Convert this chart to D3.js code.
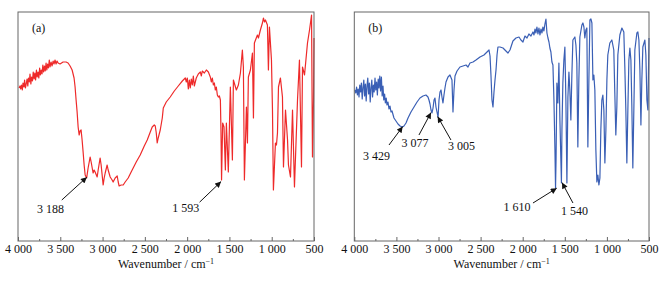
<!DOCTYPE html>
<html>
<head>
<meta charset="utf-8">
<script src="https://cdn.jsdelivr.net/npm/d3@7"></script>
<style>
  body { margin: 0; background: #fff; }
  svg { display: block; }
  svg text { font-family: "Liberation Serif", "Times New Roman", Tinos, "DejaVu Serif", serif; font-size: 12px; fill: #111; }
</style>
</head>
<body>
<svg id="chart" width="672" height="281"></svg>
<script>
// wavenumber (cm-1) and transmittance (a.u.)
let wnA = [3988,3976,3968,3959,3949,3941,3929,3922,3912,3903,3893,3884,3876,3866,3858,3848,3839,3829,3820,3810,3801,3792,3782,3773,3763,3754,3744,3735,3725,3716,3706,3697,3687,3678,3668,3659,3649,3640,3630,3621,3609,3597,3585,3574,3562,3550,3538,3526,3503,3467,3431,3408,3384,3360,3337,3325,3313,3301,3289,3277,3266,3254,3242,3230,3218,3206,3188,3171,3147,3135,3112,3100,3088,3064,3052,3029,3017,2993,2981,2969,2946,2934,2910,2887,2875,2851,2827,2815,2804,2780,2756,2733,2697,2662,2638,2602,2555,2507,2472,2436,2413,2389,2377,2365,2354,2342,2318,2294,2282,2247,2200,2152,2105,2057,2022,2010,1998,1986,1974,1963,1951,1939,1927,1915,1892,1868,1844,1832,1821,1797,1773,1749,1726,1714,1702,1690,1678,1667,1655,1643,1631,1619,1607,1600,1593,1580,1564,1548,1536,1513,1489,1465,1453,1418,1394,1370,1347,1335,1323,1299,1287,1276,1252,1228,1216,1205,1169,1157,1134,1110,1098,1086,1074,1051,1039,1027,1003,991,980,956,944,932,920,897,873,861,837,813,802,778,754,731,695,672,648,636,612,577,553,529,518,506,500]
let tA = [76.5,77.5,76,78,75.5,79,77,80.5,76.5,78.5,81,77.5,81.5,79.5,83.5,78.5,82,80,84.5,81,84,80.5,85.5,82,84.5,81.5,86.5,83,85.5,83.5,88,84.5,87.5,85,89,85.5,88.5,86.5,90.5,87,89.5,87.5,90,88.5,90.5,88.5,90,89,88.5,89.5,89.5,89,87.5,85.5,81.5,77,70.5,64.5,57,53,55,55.5,50.5,44.5,38,33,31.5,36.5,42,39.5,34,35.5,34.5,32,35.5,41.5,38,28,31.5,34,38,35.5,32,30.5,29.5,31.5,32.5,29.5,27.5,28,28,29.5,31.5,34.5,36.5,39.5,43,47.5,50.5,54.5,57,58,57.5,54,49,51.5,55.5,61.5,66.5,69.5,72,75,77.5,80,81.5,79.5,81.5,76,80.5,76.5,81,78,82.5,77.5,81.5,83.5,84.5,82.5,85,84,85.5,84.5,82,79.5,81.5,78,79,75.5,77,73,72,72.5,70.5,55,30.5,59,57,35.5,59,34.5,77,40.5,80.5,75.5,78,84,95.5,87,30.5,67,49,82,85.5,94,61.5,99,103,101.5,105.5,109,111.5,109.5,110.5,108,85.5,107,90.5,65.5,25.5,49,48,54,77,81.5,72,37,65.5,50.5,38,32,65.5,27,70.5,90.5,37,87,83,99,105.5,113,42,70.5,101.5]

let wnB = [3992,3982,3973,3963,3954,3944,3935,3925,3916,3906,3897,3887,3878,3868,3859,3849,3840,3830,3821,3811,3802,3792,3783,3773,3764,3754,3745,3735,3726,3716,3707,3697,3688,3678,3669,3659,3650,3640,3631,3621,3612,3600,3588,3576,3564,3552,3529,3505,3481,3457,3429,3410,3386,3362,3327,3291,3255,3220,3184,3149,3125,3113,3101,3089,3077,3065,3053,3042,3030,3018,3005,2994,2982,2970,2959,2947,2935,2923,2911,2887,2864,2840,2828,2816,2804,2780,2745,2709,2673,2650,2626,2590,2555,2507,2460,2424,2400,2388,2377,2365,2353,2341,2329,2317,2305,2294,2270,2234,2199,2175,2151,2116,2080,2044,2021,1997,1973,1949,1926,1902,1878,1866,1854,1843,1831,1819,1807,1795,1783,1771,1760,1748,1736,1724,1712,1700,1688,1677,1665,1653,1641,1629,1617,1610,1604,1594,1582,1570,1558,1540,1534,1523,1511,1499,1487,1475,1463,1451,1440,1428,1416,1404,1380,1368,1357,1345,1333,1321,1297,1285,1273,1262,1250,1238,1226,1214,1202,1190,1178,1166,1155,1143,1131,1119,1107,1095,1083,1072,1060,1048,1036,1024,1012,1000,989,965,941,918,906,894,882,870,846,822,799,787,775,763,751,739,727,715,704,692,680,668,644,632,620,608,596,585,573,549,537,525,513,500]
let tB = [75.5,74,77,73,76,72,78,74.5,79,71,76.5,80.5,72.5,78.5,70,77.5,81.5,73.5,79,69.5,76.5,80.5,72,78,74.5,81.5,75.5,79.5,73,81,76.5,82.5,75,82,72.5,77.5,70.5,73.5,69,71.5,68,69.5,66,67.5,64.5,65,61.5,60,58.5,57.5,57,57.5,59,61.5,64.5,67,69.5,71.5,72.5,73,72,70.5,68.5,65.5,64,66.5,70.5,71.5,67,64.5,62,70.5,74.5,75.5,72,69,73,76.5,79.5,82,83,80.5,64.5,75.5,82.5,85,87,87.5,88,87,89,89.5,90.5,92,93,94.5,95.5,92.5,83,70.5,67,74.5,80.5,85.5,93,97,97,96.5,95,94,95.5,100,101.5,102,100.5,99.5,102.5,101.5,103.5,102.5,104.5,103,106,104,107,103.5,106.5,103,106,104,107,105,108.5,111,104,101.5,99.5,96.5,94.5,89.5,88,70.5,45.5,26.5,40.5,79,69,89,60.5,29,55.5,79,90.5,97,70.5,29,72,84.5,75.5,60.5,83,100.5,102,98,89,47,80.5,102,108,109,107,101.5,105.5,106.5,47,80.5,110.5,111,109,80.5,83,75.5,45.5,29.5,33,28,31.5,55.5,70.5,73,65.5,39,55.5,80.5,93,99,100.5,95.5,74,53,67,93,103,106.5,104.5,87,65.5,39,65.5,90.5,96.5,90.5,68,36.5,65.5,95.5,104,104.5,100.5,85.5,58,80.5,97,100.5,93,70.5,65.5,101.5]

let majorTicks = [4000, 3500, 3000, 2500, 2000, 1500, 1000, 500]
let minorTicks = [3750, 3250, 2750, 2250, 1750, 1250, 750]

// peak labels: text, label pos, arrow tail, arrow tip (wavenumber, transmittance)
let notesA = [
  {text: "3 188", lx: 3615, ly: 14, fx: 3482, fy: 20.5, tx: 3186, ty: 31.9},
  {text: "1 593", lx: 2016, ly: 14.6, fx: 1853, fy: 19.4, tx: 1599, ty: 29.7}
]
let notesB = [
  {text: "3 429", lx: 3736, ly: 40.5, fx: 3588, fy: 48, tx: 3425, ty: 57.2},
  {text: "3 077", lx: 3279, ly: 47.2, fx: 3232, fy: 53, tx: 3089, ty: 64.2},
  {text: "3 005", lx: 2727, ly: 45.5, fx: 2852, fy: 50.5, tx: 3010, ty: 62.2},
  {text: "1 610", lx: 2068, ly: 15.2, fx: 1878, fy: 19, tx: 1596, ty: 26.4},
  {text: "1 540", lx: 1385, ly: 13, fx: 1403, fy: 19, tx: 1533, ty: 29.2}
]

let serif = "'Liberation Serif', 'Times New Roman', Tinos, 'DejaVu Serif', serif"
let svg = d3.select("#chart")

svg.append("defs").append("marker")
   .attr("id", "head")
   .attr("viewBox", "0 0 10 10")
   .attr("refX", 10).attr("refY", 5)
   .attr("markerWidth", 7).attr("markerHeight", 6)
   .attr("markerUnits", "userSpaceOnUse")
   .attr("orient", "auto")
   .append("path")
   .attr("d", "M0,0 L10,5 L0,10 Z")
   .attr("fill", "#111")

let plotTop = 12, plotBottom = 241

function drawPanel(left, right, wn, t, color, tag, notes){
    let x = d3.scaleLinear().domain([4000, 500]).range([left, right])
    let y = d3.scaleLinear().domain([0, 114.5]).range([plotBottom, plotTop])
    let g = svg.append("g").attr("font-family", serif).attr("font-size", 12)

    let data = wn.map(function(d, i){ return {w: d, v: t[i]} })

    g.append("path")
     .datum(data)
     .attr("fill", "none")
     .attr("stroke", color)
     .attr("stroke-width", 1.2)
     .attr("stroke-linejoin", "round")
     .attr("d", d3.line().x(d => x(d.w)).y(d => y(d.v)))

    g.append("rect")
     .attr("x", left).attr("y", plotTop)
     .attr("width", right - left).attr("height", plotBottom - plotTop)
     .attr("fill", "none")
     .attr("stroke", "#666")
     .attr("stroke-width", 1)

    let major = g.append("g")
                 .attr("transform", `translate(0,${plotBottom})`)
                 .call(d3.axisBottom(x).tickValues(majorTicks).tickSize(-4).tickPadding(3)
                     .tickFormat(d => d3.format(",")(d).replace(",", " ")))
    major.attr("font-family", serif).attr("font-size", 12)
    major.select(".domain").remove()
    major.selectAll("line").attr("stroke", "#666")
    major.selectAll("text").attr("fill", "#111")

    let minor = g.append("g")
                 .attr("transform", `translate(0,${plotBottom})`)
                 .call(d3.axisBottom(x).tickValues(minorTicks).tickSize(-2).tickFormat(""))
    minor.select(".domain").remove()
    minor.selectAll("line").attr("stroke", "#666")

    let title = g.append("text")
                 .attr("x", (left + right) / 2)
                 .attr("y", 268)
                 .attr("text-anchor", "middle")
    title.append("tspan").text("Wavenumber / cm")
    title.append("tspan").attr("dy", -4).style("font-size", "8px").text("\u22121")

    g.append("text")
     .attr("x", left + 14).attr("y", 32)
     .text(tag)

    notes.forEach(function(n){
        g.append("line")
         .attr("x1", x(n.fx)).attr("y1", y(n.fy))
         .attr("x2", x(n.tx)).attr("y2", y(n.ty))
         .attr("stroke", "#111").attr("stroke-width", 1)
         .attr("marker-end", "url(#head)")
        g.append("text")
         .attr("x", x(n.lx)).attr("y", y(n.ly))
         .attr("text-anchor", "middle")
         .text(n.text)
    })
}

drawPanel(18, 314, wnA, tA, "#ee2a2a", "(a)", notesA)
drawPanel(354.3, 649, wnB, tB, "#3a5fb5", "(b)", notesB)
</script>
</body>
</html>
